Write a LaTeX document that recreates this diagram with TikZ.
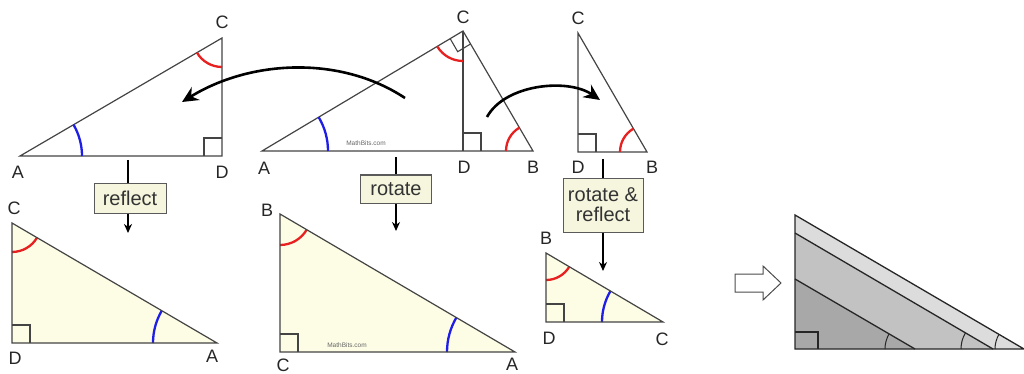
\documentclass[tikz,border=0pt]{standalone}
\usepackage{fontspec}
\setmainfont{Liberation Sans}
\usetikzlibrary{angles,arrows.meta,calc}
\definecolor{tri}{HTML}{444444}
\definecolor{fillY}{HTML}{FDFDE6}
\definecolor{boxF}{HTML}{F6F6DE}
\definecolor{boxD}{HTML}{5A5A5A}
\definecolor{redA}{HTML}{E82020}
\definecolor{blueA}{HTML}{1E1EE6}
\definecolor{gA}{HTML}{DCDCDC}
\definecolor{gB}{HTML}{C2C2C2}
\definecolor{gC}{HTML}{A8A8A8}
\begin{document}
\begin{tikzpicture}[x=1pt,y=1pt,
  triline/.style={draw=tri,line width=1.2pt,line join=miter},
  rarc/.style={draw=redA,line width=2.3pt,angle radius=#1},
  barc/.style={draw=blueA,line width=2.3pt,angle radius=#1},
  karc/.style={draw=black!85,line width=1pt,angle radius=#1},
  lbl/.style={text=black!85,inner sep=0pt,font=\fontsize{18}{20}\selectfont},
  tbox/.style={draw=boxD,fill=boxF,line width=1pt,inner sep=2pt,text=black!80,font=\fontsize{20}{21}\selectfont,align=center},
  stem/.style={draw=black,line width=1.6pt},
  darr/.style={draw=black,line width=1.6pt,-{Stealth[length=9pt,width=8pt]}},
  carr/.style={draw=black,line width=2.6pt,-{Stealth[length=16pt,width=15pt]}},
  mb/.style={text=black!60,inner sep=0pt,font=\fontsize{6.5}{7}\selectfont},
  rsq/.style={draw=tri,line width=1.1pt}
]
\useasboundingbox (0,0) rectangle (1024,-374);

% ---------- Top-left triangle ----------
\coordinate (A1) at (20,-156);
\coordinate (C1) at (222,-38);
\coordinate (D1) at (222,-156);
\draw[triline] (A1) -- (C1) -- (D1) -- cycle;
\draw[rsq] (D1) ++(-18,0) -- ++(0,18) -- ++(18,0);
\pic[rarc=29pt] {angle=A1--C1--D1};
\pic[barc=62pt] {angle=D1--A1--C1};
\node[lbl] (lA1) at (18,-172) {A};
\node[lbl] (lD1) at (222,-172) {D};
\node[lbl] (lC1) at (222,-22) {C};

% ---------- Top-middle triangle ----------
\coordinate (A2) at (262,-151);
\coordinate (B2) at (533,-151);
\coordinate (C2) at (463,-31);
\coordinate (D2) at (463,-151);
\draw[triline] (A2) -- (C2) -- (B2) -- cycle;
\draw[triline] (C2) -- (D2);
\draw[rsq] (D2) ++(0,18) -- ++(18,0) -- ++(0,-18);
\draw[rsq] (C2) ++(-12.8,-7.7) -- ++(7.5,-13) -- ++(12.8,7.7);
\pic[rarc=30pt] {angle=A2--C2--D2};
\pic[rarc=27pt] {angle=C2--B2--A2};
\pic[barc=66pt] {angle=D2--A2--C2};
\node[lbl] (lA2) at (264,-168) {A};
\node[lbl] (lD2) at (464,-167) {D};
\node[lbl] (lB2) at (533,-167) {B};
\node[lbl] (lC2) at (463,-17) {C};
\node[mb] (mb1) at (366,-143) {MathBits.com};

% ---------- Top-right triangle ----------
\coordinate (C3) at (578,-33);
\coordinate (D3) at (578,-152);
\coordinate (B3) at (647,-152);
\draw[triline] (C3) -- (D3) -- (B3) -- cycle;
\draw[rsq] (D3) ++(0,18) -- ++(18,0) -- ++(0,-18);
\pic[rarc=27pt] {angle=C3--B3--D3};
\node[lbl] (lC3) at (578,-18) {C};
\node[lbl] (lD3) at (578,-167) {D};
\node[lbl] (lB3) at (652,-167) {B};

% ---------- curved arrows ----------
\coordinate (cs1) at (405,-98);
\coordinate (ce1) at (182,-102);
\draw[carr] (cs1) .. controls (340,-55) and (250,-60) .. (ce1);
\coordinate (cs2) at (487,-117);
\coordinate (ce2) at (600,-100);
\draw[carr] (cs2) .. controls (505,-84) and (568,-78) .. (ce2);

% ---------- boxes and arrows ----------
\node[tbox,minimum width=72pt,minimum height=30pt] (b1) at (130,-198) {reflect};
\coordinate (s1) at (128,-160);
\coordinate (t1) at (128,-233);
\draw[stem] (s1) -- (s1 |- b1.north);
\draw[darr] (t1 |- b1.south) -- (t1);

\node[tbox,minimum width=71pt,minimum height=28pt] (b2) at (396,-189) {rotate};
\coordinate (s2) at (396,-157);
\coordinate (t2) at (396,-231);
\draw[stem] (s2) -- (b2.north);
\draw[darr] (b2.south) -- (t2);

\node[tbox,minimum width=80pt,minimum height=54pt] (b3) at (603,-205) {rotate \&\\[-1pt]reflect};
\coordinate (s3) at (603,-159);
\coordinate (t3) at (603,-271);
\draw[stem] (s3) -- (b3.north);
\draw[darr] (b3.south) -- (t3);

% ---------- Bottom-left triangle ----------
\coordinate (C4) at (12,-223);
\coordinate (D4) at (12,-343);
\coordinate (A4) at (217,-343);
\fill[fillY] (C4) -- (D4) -- (A4) -- cycle;
\draw[rsq] (D4) ++(0,18) -- ++(18,0) -- ++(0,-18);
\pic[rarc=29pt] {angle=D4--C4--A4};
\pic[barc=64pt] {angle=C4--A4--D4};
\draw[triline] (C4) -- (D4) -- (A4) -- cycle;
\node[lbl] (lC4) at (14,-208) {C};
\node[lbl] (lD4) at (15,-358) {D};
\node[lbl] (lA4) at (212,-356) {A};

% ---------- Bottom-middle triangle ----------
\coordinate (B5) at (280,-214);
\coordinate (C5) at (280,-352);
\coordinate (A5) at (515,-352);
\fill[fillY] (B5) -- (C5) -- (A5) -- cycle;
\draw[rsq] (C5) ++(0,18) -- ++(18,0) -- ++(0,-18);
\pic[rarc=31pt] {angle=C5--B5--A5};
\pic[barc=68pt] {angle=B5--A5--C5};
\draw[triline] (B5) -- (C5) -- (A5) -- cycle;
\node[mb] (mb2) at (347,-345) {MathBits.com};
\node[lbl] (lB5) at (267,-210) {B};
\node[lbl] (lC5) at (283,-365) {C};
\node[lbl] (lA5) at (512,-364) {A};

% ---------- Bottom-right triangle ----------
\coordinate (B6) at (546,-253);
\coordinate (D6) at (546,-322);
\coordinate (C6) at (663,-322);
\fill[fillY] (B6) -- (D6) -- (C6) -- cycle;
\draw[rsq] (D6) ++(0,18) -- ++(18,0) -- ++(0,-18);
\pic[rarc=27pt] {angle=D6--B6--C6};
\pic[barc=61pt] {angle=B6--C6--D6};
\draw[triline] (B6) -- (D6) -- (C6) -- cycle;
\node[lbl] (lB6) at (546,-238) {B};
\node[lbl] (lD6) at (549,-338) {D};
\node[lbl] (lC6) at (662,-339) {C};

% ---------- Block arrow ----------
\draw[draw=black!70,fill=white,line width=1pt]
  (735,-274) -- (763,-274) -- (763,-266) -- (781,-283) -- (763,-300) -- (763,-292) -- (735,-292) -- cycle;

% ---------- Nested grey triangles ----------
\coordinate (P) at (795,-215);
\coordinate (Q) at (795,-349);
\coordinate (R) at (1024,-349);
\coordinate (P1) at (795,-233);
\coordinate (R1) at (993,-349);
\coordinate (P2) at (795,-279);
\coordinate (R2) at (915,-349);
\fill[gA] (P) -- (Q) -- (R) -- cycle;
\fill[gB] (P1) -- (Q) -- (R1) -- cycle;
\fill[gC] (P2) -- (Q) -- (R2) -- cycle;
\draw[draw=black!85,line width=1.3pt] (P) -- (Q) -- (R) -- cycle;
\draw[draw=black!85,line width=1.3pt] (P1) -- (R1);
\draw[draw=black!85,line width=1.3pt] (P2) -- (R2);
\draw[draw=black!85,line width=1.1pt] (Q) ++(0,17) -- ++(23,0) -- ++(0,-17);
\pic[karc=30pt] {angle=P2--R2--Q};
\pic[karc=32pt] {angle=P1--R1--Q};
\pic[karc=29pt] {angle=P--R--Q};
\end{tikzpicture}
\end{document}
